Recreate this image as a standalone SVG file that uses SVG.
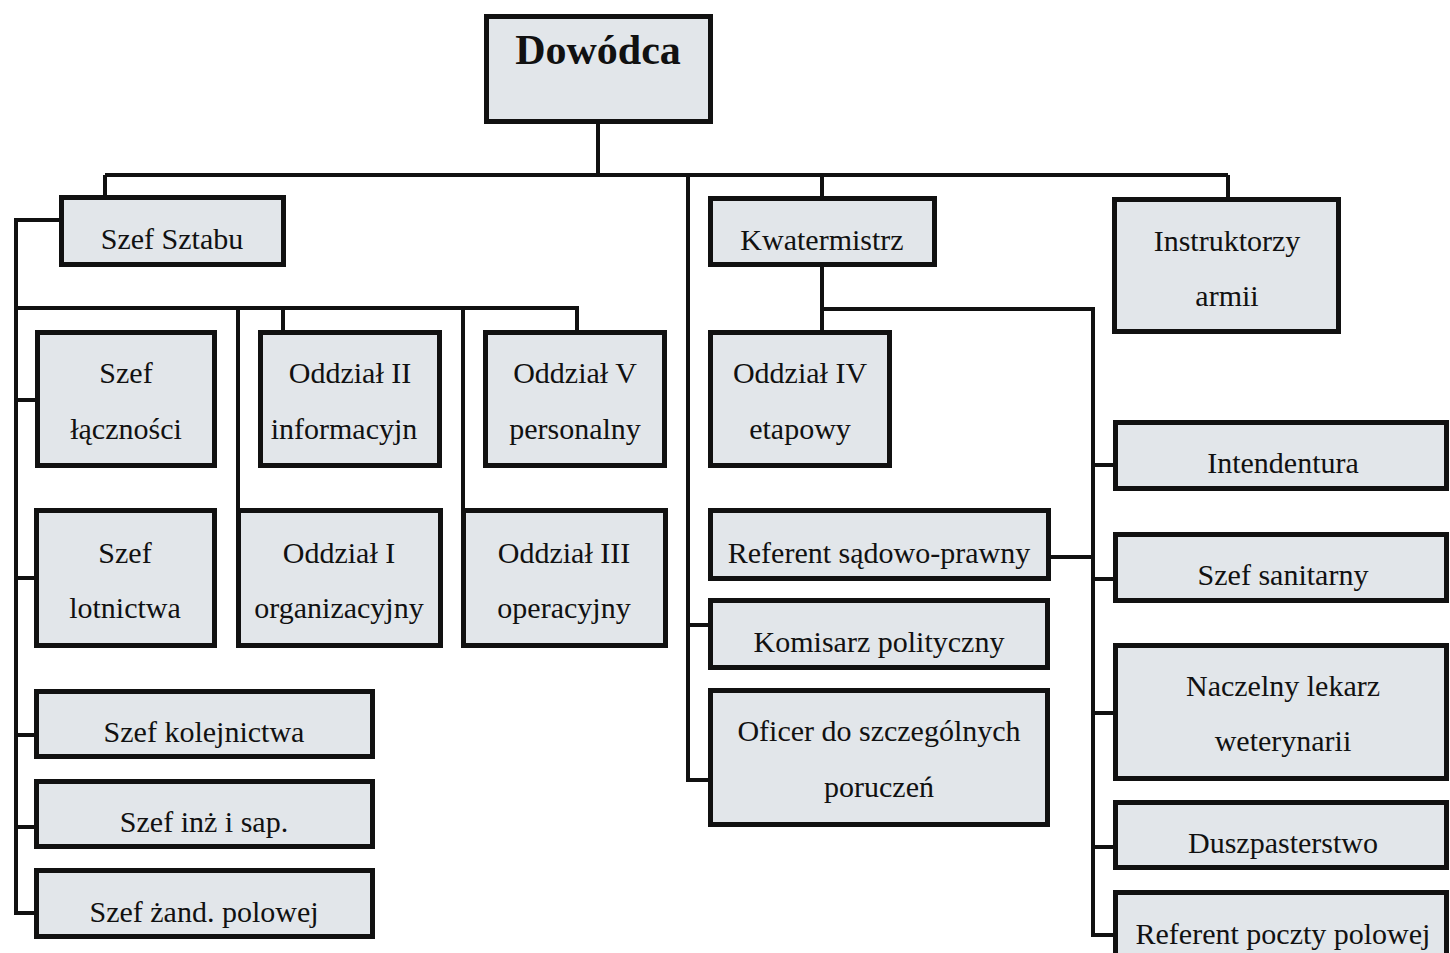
<svg xmlns="http://www.w3.org/2000/svg" width="1450" height="953" viewBox="0 0 1450 953">
<style>
.box{fill:#e2e6ea;stroke:#111;stroke-width:5}
.t{font-family:"Liberation Serif","Times New Roman",serif;font-size:30px;fill:#111;text-anchor:middle}
.tb{font-family:"Liberation Serif","Times New Roman",serif;font-size:42px;font-weight:bold;fill:#111;text-anchor:middle}
.c{fill:none;stroke:#111;stroke-width:4}
</style>
<rect width="1450" height="953" fill="#ffffff"/>
<g id="connectors" class="c">
<path d="M598,124 V175"/>
<path d="M105,175 H1228"/>
<path d="M105,175 V196"/>
<path d="M822,175 V197"/>
<path d="M1228,175 V198"/>
<path d="M688,175 V780 H709"/>
<path d="M688,625 H709"/>
<path d="M60,220 H16 V913 H35"/>
<path d="M16,400 H36 M16,578 H35 M16,735 H35 M16,827 H35"/>
<path d="M16,308 H577 V331"/>
<path d="M283,308 V331"/>
<path d="M238,308 V509"/>
<path d="M463,308 V509"/>
<path d="M822,266 V331"/>
<path d="M822,309 H1093 V935 H1114"/>
<path d="M1093,465 H1114 M1093,579 H1114 M1093,713 H1114 M1093,847 H1114"/>
<path d="M1050,557 H1093"/>
</g>
<g id="n-dowodca"><rect class="box" x="486.5" y="16.5" width="224" height="105"/><text class="tb" x="598" y="64">Dowódca</text></g>
<g id="n-szef-sztabu"><rect class="box" x="61.5" y="197.5" width="222" height="67"/><text class="t" x="172" y="249">Szef Sztabu</text></g>
<g id="n-kwatermistrz"><rect class="box" x="710.5" y="198.5" width="224" height="66"/><text class="t" x="822" y="250">Kwatermistrz</text></g>
<g id="n-instruktorzy"><rect class="box" x="1114.5" y="199.5" width="224" height="132"/><text class="t" x="1227" y="251">Instruktorzy</text><text class="t" x="1227" y="306">armii</text></g>
<g id="n-szef-lacznosci"><rect class="box" x="37.5" y="332.5" width="177" height="133"/><text class="t" x="126" y="383">Szef</text><text class="t" x="126" y="439">łączności</text></g>
<g id="n-oddzial-2"><rect class="box" x="260.5" y="332.5" width="179" height="133"/><text class="t" x="350" y="383">Oddział II</text><text class="t" x="344" y="439">informacyjn</text></g>
<g id="n-oddzial-5"><rect class="box" x="485.5" y="332.5" width="179" height="133"/><text class="t" x="575" y="383">Oddział V</text><text class="t" x="575" y="439">personalny</text></g>
<g id="n-oddzial-4"><rect class="box" x="710.5" y="332.5" width="179" height="133"/><text class="t" x="800" y="383">Oddział IV</text><text class="t" x="800" y="439">etapowy</text></g>
<g id="n-szef-lotnictwa"><rect class="box" x="36.5" y="510.5" width="178" height="135"/><text class="t" x="125" y="563">Szef</text><text class="t" x="125" y="618">lotnictwa</text></g>
<g id="n-oddzial-1"><rect class="box" x="238.5" y="510.5" width="202" height="135"/><text class="t" x="339" y="563">Oddział I</text><text class="t" x="339" y="618">organizacyjny</text></g>
<g id="n-oddzial-3"><rect class="box" x="463.5" y="510.5" width="202" height="135"/><text class="t" x="564" y="563">Oddział III</text><text class="t" x="564" y="618">operacyjny</text></g>
<g id="n-szef-kolejnictwa"><rect class="box" x="36.5" y="691.5" width="336" height="65"/><text class="t" x="204" y="742">Szef kolejnictwa</text></g>
<g id="n-szef-inz"><rect class="box" x="36.5" y="781.5" width="336" height="65"/><text class="t" x="204" y="832">Szef inż i sap.</text></g>
<g id="n-szef-zand"><rect class="box" x="36.5" y="870.5" width="336" height="66"/><text class="t" x="204" y="922">Szef żand. polowej</text></g>
<g id="n-intendentura"><rect class="box" x="1115.5" y="422.5" width="331" height="66"/><text class="t" x="1283" y="473">Intendentura</text></g>
<g id="n-referent-sadowo"><rect class="box" x="710.5" y="510.5" width="338" height="68"/><text class="t" x="879" y="563">Referent sądowo-prawny</text></g>
<g id="n-szef-sanitarny"><rect class="box" x="1115.5" y="534.5" width="331" height="66"/><text class="t" x="1283" y="585">Szef sanitarny</text></g>
<g id="n-komisarz"><rect class="box" x="710.5" y="600.5" width="337" height="67"/><text class="t" x="879" y="652">Komisarz polityczny</text></g>
<g id="n-naczelny-lekarz"><rect class="box" x="1115.5" y="645.5" width="331" height="133"/><text class="t" x="1283" y="696">Naczelny lekarz</text><text class="t" x="1283" y="751">weterynarii</text></g>
<g id="n-oficer"><rect class="box" x="710.5" y="690.5" width="337" height="134"/><text class="t" x="879" y="741">Oficer do szczególnych</text><text class="t" x="879" y="797">poruczeń</text></g>
<g id="n-duszpasterstwo"><rect class="box" x="1115.5" y="802.5" width="331" height="65"/><text class="t" x="1283" y="853">Duszpasterstwo</text></g>
<g id="n-referent-poczty"><rect class="box" x="1115.5" y="892.5" width="331" height="80"/><text class="t" x="1283" y="944">Referent poczty polowej</text></g>
</svg>
